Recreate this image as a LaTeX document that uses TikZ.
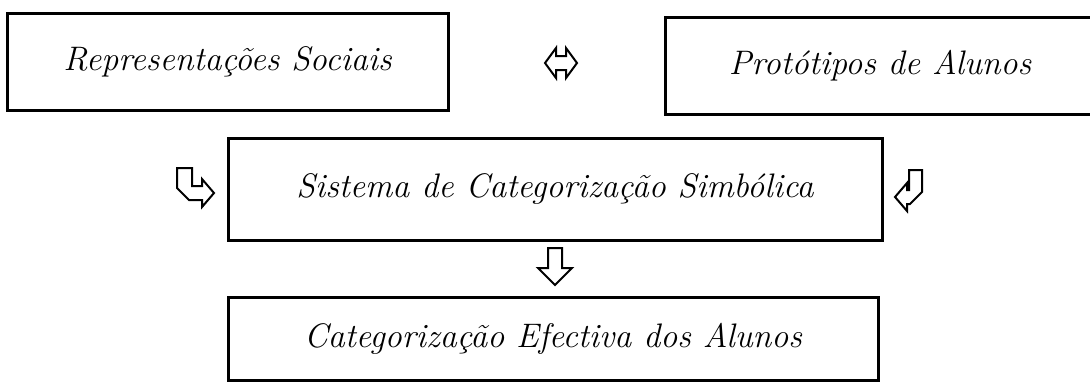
\documentclass[tikz,border=0pt]{standalone}
\usepackage{tikz}

\begin{document}
\begin{tikzpicture}[x=0.5pt, y=-0.5pt,
  box/.style={draw, line width=1.5pt, inner sep=0pt,
    font=\fontsize{17}{21}\selectfont\itshape},
  hollow/.style={draw, line width=1pt, line join=miter}]
\useasboundingbox (0,0) rectangle (1090,381);
\node[box, minimum width=220.5pt, minimum height=48.5pt] (rep) at (227.5,61.5) {Representações Sociais};
\node[box, minimum width=215pt, minimum height=48.5pt] (prot) at (880,65.5) {Protótipos de Alunos};
\node[box, minimum width=327pt, minimum height=51pt] (sis) at (555,189) {Sistema de Categorização Simbólica};
\node[box, minimum width=325pt, minimum height=41.5pt] (cat) at (553,338.5) {Categorização Efectiva dos Alunos};
% hollow arrows between the boxes
\draw[hollow] (545,63) -- (556,48) -- (556,56) -- (566,56) -- (566,48) -- (577,63)
  -- (566,78) -- (566,70) -- (556,70) -- (556,78) -- cycle;
\draw[hollow] (177,168) -- (192,168) -- (192,186) -- (202,186) -- (202,179) -- (214,193)
  -- (202,207) -- (202,200) -- (189,200) -- (177,188) -- cycle;
\draw[hollow] (922,170) -- (922,192) -- (910,204) -- (907,204) -- (907,211) -- (895,197)
  -- (907,183) -- (907,190) -- (909,190) -- (909,170) -- cycle;
\draw[hollow] (548,248) -- (562,248) -- (562,268) -- (572,268) -- (555,285)
  -- (538,268) -- (548,268) -- cycle;
\end{tikzpicture}
\end{document}
